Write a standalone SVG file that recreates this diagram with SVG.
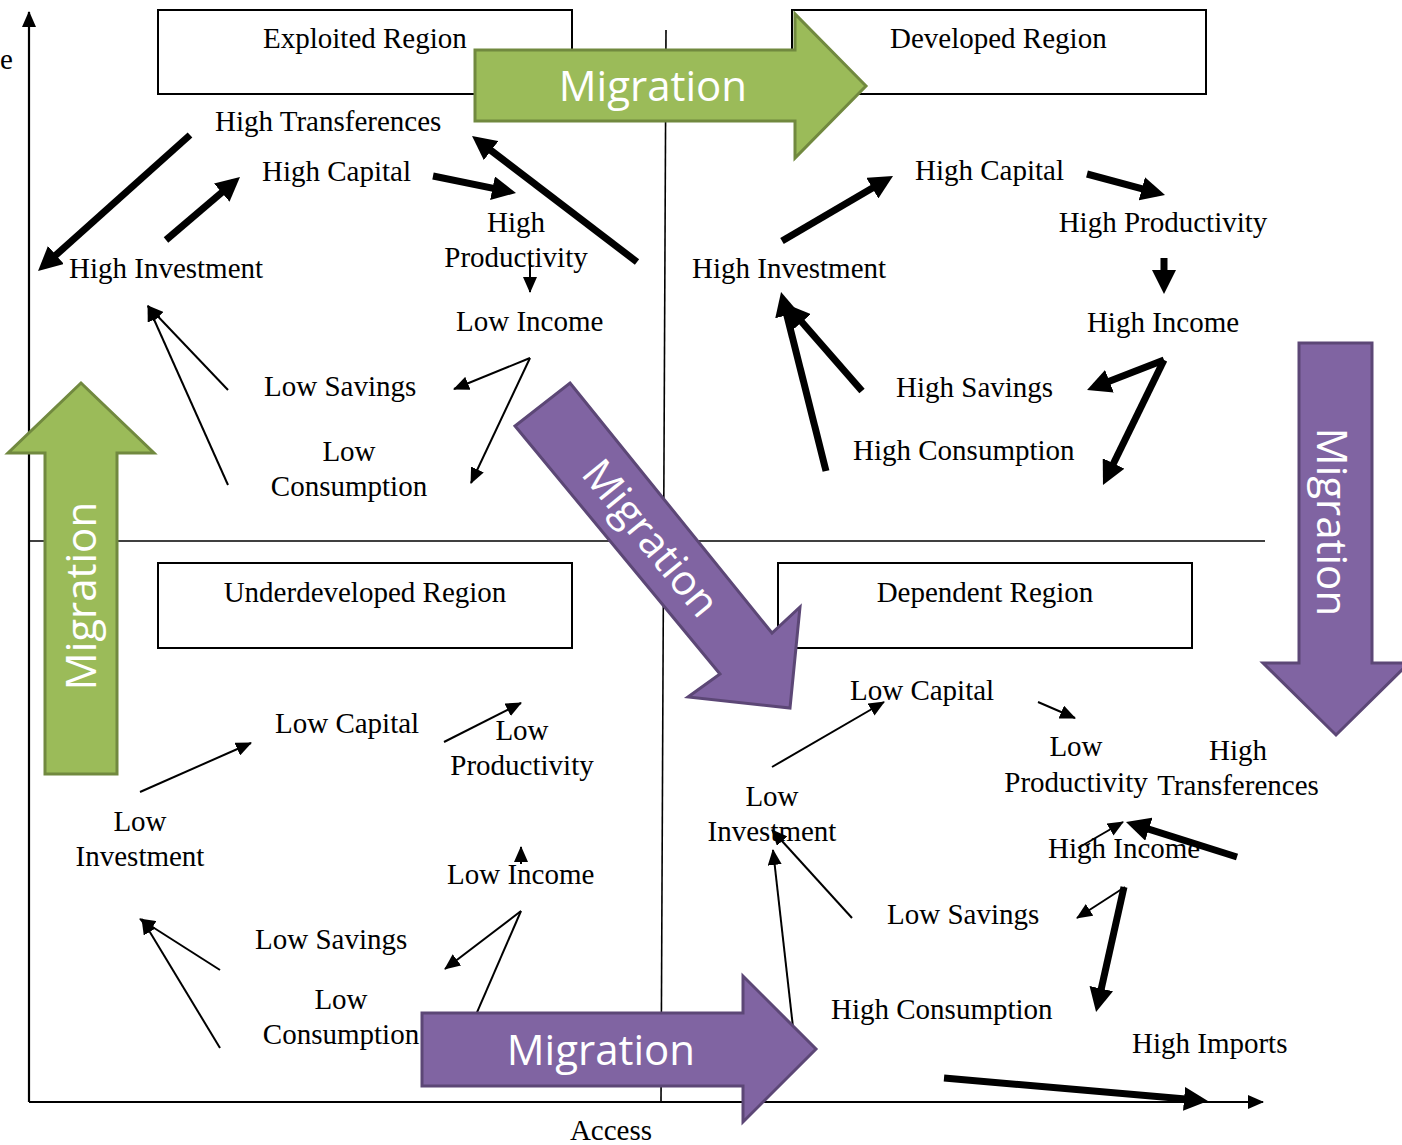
<svg xmlns="http://www.w3.org/2000/svg" width="1402" height="1145" viewBox="0 0 1402 1145">
<defs>
<style>
.lbl{font-family:"Liberation Serif","Times New Roman",serif;font-size:29px;fill:#000}
.mid{text-anchor:middle}
.mig{font-family:"Open Sans","Noto Sans",sans-serif;font-size:42px;fill:#fff;text-anchor:middle}
.box{fill:#fff;stroke:#000;stroke-width:2}
.axis{stroke:#000;stroke-width:2.2;fill:none}
.quad{stroke:#000;stroke-width:1.6;fill:none}
.thin{stroke:#000;stroke-width:2;fill:none;marker-end:url(#ht)}
.thinnh{stroke:#000;stroke-width:2;fill:none}
.thick{stroke:#000;stroke-width:7;fill:none;marker-end:url(#hk)}
.green{fill:#9BBB59;stroke:#71893F;stroke-width:3}
.purple{fill:#8064A2;stroke:#5C4776;stroke-width:3}
</style>
<marker id="hk" markerUnits="userSpaceOnUse" markerWidth="24" markerHeight="24" viewBox="0 0 24 24" refX="16" refY="12" orient="auto"><path d="M0,0 L24,12 L0,24 z" fill="#000"/></marker>
<marker id="ht" markerUnits="userSpaceOnUse" markerWidth="16" markerHeight="14" viewBox="0 0 16 14" refX="15" refY="7" orient="auto"><path d="M0,0 L16,7 L0,14 z" fill="#000"/></marker>
</defs>
<rect width="1402" height="1145" fill="#fff"/>

<g id="axes">
<line class="axis" x1="29" y1="1102" x2="29" y2="12" marker-end="url(#ht)"/>
<line class="axis" x1="29" y1="1102" x2="1263" y2="1102" marker-end="url(#ht)"/>
<line class="quad" x1="29" y1="541" x2="1265" y2="541"/>
<line class="quad" x1="666" y1="30" x2="661" y2="1102"/>
<text class="lbl" x="0" y="69">e</text>
<text class="lbl mid" x="611" y="1140">Access</text>
</g>

<g id="region-exploited"><rect class="box" x="158" y="10" width="414" height="84"/><text class="lbl" x="263" y="48">Exploited Region</text></g>
<g id="region-developed"><rect class="box" x="792" y="10" width="414" height="84"/><text class="lbl" x="890" y="48">Developed Region</text></g>
<g id="region-underdeveloped"><rect class="box" x="158" y="563" width="414" height="85"/><text class="lbl mid" x="365" y="602">Underdeveloped Region</text></g>
<g id="region-dependent"><rect class="box" x="778" y="563" width="414" height="85"/><text class="lbl mid" x="985" y="602">Dependent Region</text></g>

<g id="tl-high-transferences"><text class="lbl" x="215" y="131">High Transferences</text></g>
<g id="tl-high-capital"><text class="lbl" x="262" y="181">High Capital</text></g>
<g id="tl-high-productivity"><text class="lbl mid" x="516" y="232">High</text><text class="lbl mid" x="516" y="267">Productivity</text></g>
<g id="tl-high-investment"><text class="lbl" x="69" y="278">High Investment</text></g>
<g id="tl-low-income"><text class="lbl" x="456" y="331">Low Income</text></g>
<g id="tl-low-savings"><text class="lbl" x="264" y="396">Low Savings</text></g>
<g id="tl-low-consumption"><text class="lbl mid" x="349" y="461">Low</text><text class="lbl mid" x="349" y="496">Consumption</text></g>

<g id="tr-high-capital"><text class="lbl" x="915" y="180">High Capital</text></g>
<g id="tr-high-productivity"><text class="lbl mid" x="1163" y="232">High Productivity</text></g>
<g id="tr-high-investment"><text class="lbl" x="692" y="278">High Investment</text></g>
<g id="tr-high-income"><text class="lbl mid" x="1163" y="332">High Income</text></g>
<g id="tr-high-savings"><text class="lbl" x="896" y="397">High Savings</text></g>
<g id="tr-high-consumption"><text class="lbl" x="853" y="460">High Consumption</text></g>

<g id="bl-low-capital"><text class="lbl" x="275" y="733">Low Capital</text></g>
<g id="bl-low-productivity"><text class="lbl mid" x="522" y="740">Low</text><text class="lbl mid" x="522" y="775">Productivity</text></g>
<g id="bl-low-investment"><text class="lbl mid" x="140" y="831">Low</text><text class="lbl mid" x="140" y="866">Investment</text></g>
<g id="bl-low-income"><text class="lbl" x="447" y="884">Low Income</text></g>
<g id="bl-low-savings"><text class="lbl" x="255" y="949">Low Savings</text></g>
<g id="bl-low-consumption"><text class="lbl mid" x="341" y="1009">Low</text><text class="lbl mid" x="341" y="1044">Consumption</text></g>

<g id="br-low-capital"><text class="lbl" x="850" y="700">Low Capital</text></g>
<g id="br-low-productivity"><text class="lbl mid" x="1076" y="756">Low</text><text class="lbl mid" x="1076" y="792">Productivity</text></g>
<g id="br-high-transferences"><text class="lbl mid" x="1238" y="760">High</text><text class="lbl mid" x="1238" y="795">Transferences</text></g>
<g id="br-low-investment"><text class="lbl mid" x="772" y="806">Low</text><text class="lbl mid" x="772" y="841">Investment</text></g>
<g id="br-high-income"><text class="lbl" x="1048" y="858">High Income</text></g>
<g id="br-low-savings"><text class="lbl" x="887" y="924">Low Savings</text></g>
<g id="br-high-consumption"><text class="lbl" x="831" y="1019">High Consumption</text></g>
<g id="br-high-imports"><text class="lbl" x="1132" y="1053">High Imports</text></g>

<g id="connectors">
<line class="thick" x1="190" y1="135" x2="44" y2="265.7"/>
<line class="thick" x1="166" y1="240" x2="233.9" y2="182.2"/>
<line class="thick" x1="433" y1="176" x2="508.2" y2="191.4"/>
<line class="thin" x1="530" y1="255" x2="530" y2="292"/>
<line class="thick" x1="637" y1="262" x2="478.4" y2="140.9"/>
<line class="thin" x1="530" y1="358" x2="454" y2="389"/>
<line class="thin" x1="530" y1="358" x2="471" y2="483"/>
<line class="thin" x1="228" y1="390" x2="148" y2="306"/>
<line class="thin" x1="228" y1="485" x2="148" y2="306"/>

<line class="thick" x1="782" y1="241" x2="886.1" y2="180"/>
<line class="thick" x1="1087" y1="174" x2="1157.3" y2="192.9"/>
<line class="thick" x1="1164" y1="258" x2="1164" y2="286"/>
<line class="thick" x1="1164" y1="360" x2="1094.5" y2="387.1"/>
<line class="thick" x1="1164" y1="360" x2="1106.5" y2="477.8"/>
<line class="thick" x1="862" y1="391" x2="791.3" y2="310"/>
<line class="thick" x1="826" y1="471" x2="783" y2="299.8"/>

<line class="thin" x1="140" y1="792" x2="251" y2="743"/>
<line class="thin" x1="444" y1="742" x2="521" y2="703"/>
<line class="thin" x1="521" y1="864" x2="521" y2="847"/>
<line class="thin" x1="521" y1="911" x2="445" y2="969"/>
<line class="thinnh" x1="521" y1="911" x2="465" y2="1040"/>
<line class="thin" x1="220" y1="970" x2="140" y2="919"/>
<line class="thin" x1="220" y1="1048" x2="142" y2="919"/>

<line class="thin" x1="772" y1="767" x2="884" y2="702"/>
<line class="thin" x1="1038" y1="702" x2="1075" y2="718"/>
<line class="thin" x1="1078" y1="848" x2="1123" y2="822"/>
<line class="thick" x1="1237" y1="857" x2="1133.6" y2="824.4"/>
<line class="thin" x1="1125" y1="887" x2="1077" y2="918"/>
<line class="thick" x1="1124" y1="887" x2="1097.8" y2="1004.2"/>
<line class="thin" x1="852" y1="918" x2="772" y2="830"/>
<line class="thin" x1="795" y1="1045" x2="773" y2="850"/>
<line class="thick" x1="944" y1="1078" x2="1200" y2="1100.3"/>
</g>

<g id="migration-top">
<path class="green" d="M475,50 L795,50 L795,14 L866,86 L795,158 L795,121 L475,121 Z"/>
<text class="mig" x="653" y="101">Migration</text>
</g>
<g id="migration-left">
<path class="green" d="M81,383 L154,453 L117,453 L117,774 L45,774 L45,453 L8,453 Z"/>
<text class="mig" transform="translate(81,596) rotate(-90)" x="0" y="15">Migration</text>
</g>
<g id="migration-diagonal">
<path class="purple" d="M570,383 L772,633 L800,607 L790,708 L688,697 L720,674 L515,426 Z"/>
<text class="mig" transform="translate(651.2,537.8) rotate(50.8)" x="0" y="15">Migration</text>
</g>
<g id="migration-right">
<path class="purple" d="M1299,343 L1372,343 L1372,663 L1409,663 L1336,735 L1263,663 L1299,663 Z"/>
<text class="mig" transform="translate(1332,522) rotate(90)" x="0" y="15">Migration</text>
</g>
<g id="migration-bottom">
<path class="purple" d="M422,1013 L743,1013 L743,976 L816,1049 L743,1122 L743,1086 L422,1086 Z"/>
<text class="mig" x="601" y="1065">Migration</text>
</g>
</svg>
